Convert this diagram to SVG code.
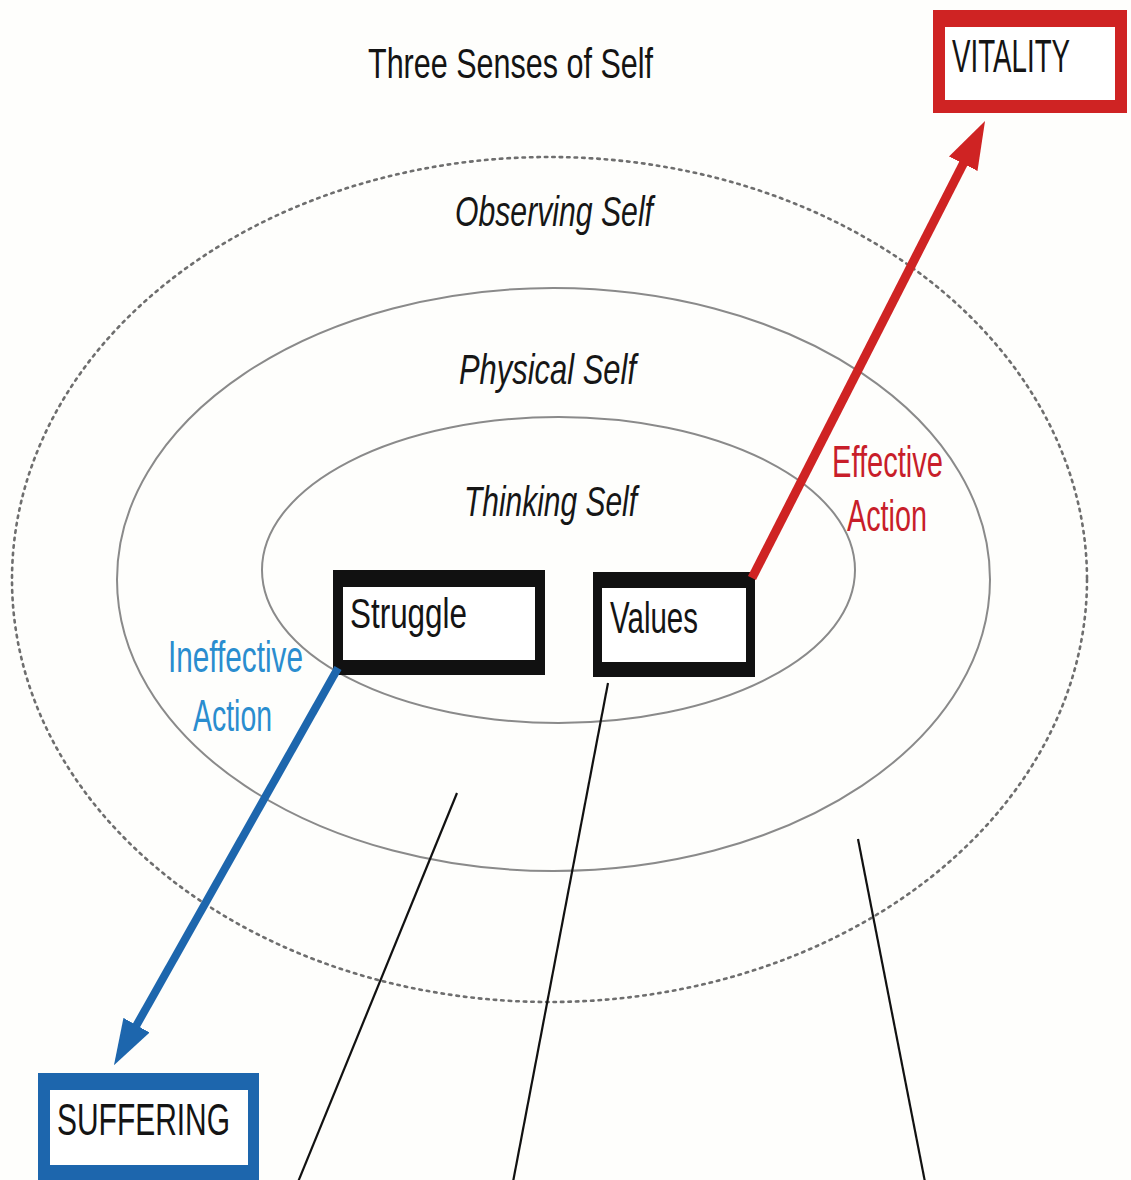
<svg xmlns="http://www.w3.org/2000/svg" width="1131" height="1180" viewBox="0 0 1131 1180">
  <style>
    .lbl { font-family: "Liberation Sans", Arial, sans-serif; fill: #141414; }
    .sense { font-family: "Liberation Sans", Arial, sans-serif; font-style: italic; fill: #161616; font-size: 42px; }
    .ring { fill: none; stroke: #8a8a8a; stroke-width: 2; }
    .ring-outer { fill: none; stroke: #6e6e6e; stroke-width: 2.6; stroke-dasharray: 2.5 5; stroke-linecap: round; }
    .leader { stroke: #111; stroke-width: 2.2; fill: none; }
    .good { stroke: #cf2323; stroke-width: 9; fill: none; }
    .bad { stroke: #1d66ad; stroke-width: 8; fill: none; }
  </style>
  <defs>
    <marker id="headRed" markerUnits="userSpaceOnUse" markerWidth="50" markerHeight="34" refX="18" refY="17" orient="auto">
      <path d="M0,1 L48,17 L0,33 z" fill="#cf2323"/>
    </marker>
    <marker id="headBlue" markerUnits="userSpaceOnUse" markerWidth="50" markerHeight="32" refX="18" refY="16" orient="auto">
      <path d="M0,1 L46,16 L0,31 z" fill="#1d66ad"/>
    </marker>
  </defs>

  <rect width="1131" height="1180" fill="#fefefc"/>

  <!-- title -->
  <text class="lbl" x="368" y="78" font-size="42" textLength="285" lengthAdjust="spacingAndGlyphs">Three Senses of Self</text>

  <!-- nested senses of self -->
  <g id="observing-self">
    <ellipse class="ring-outer" cx="549.5" cy="579.5" rx="537.5" ry="422.5"/>
    <text class="sense" x="455" y="226" textLength="198" lengthAdjust="spacingAndGlyphs">Observing Self</text>
  </g>
  <g id="physical-self">
    <ellipse class="ring" cx="553.5" cy="579.5" rx="436.5" ry="291.5"/>
    <text class="sense" x="459" y="384" textLength="177" lengthAdjust="spacingAndGlyphs">Physical Self</text>
  </g>
  <g id="thinking-self">
    <ellipse class="ring" cx="558.5" cy="570" rx="296.5" ry="153"/>
    <text class="sense" x="464" y="516" textLength="173" lengthAdjust="spacingAndGlyphs">Thinking Self</text>
  </g>

  <!-- boxes -->
  <g id="vitality">
    <rect x="933" y="10" width="194" height="103" fill="#cf2323"/>
    <rect x="945" y="27" width="170" height="73" fill="#ffffff"/>
    <text class="lbl" transform="translate(952,72) scale(0.59,1)" font-size="47">VITALITY</text>
  </g>
  <g id="suffering">
    <rect x="38" y="1073" width="221" height="112" fill="#1d66ad"/>
    <rect x="50" y="1090" width="198" height="75" fill="#ffffff"/>
    <text class="lbl" x="57" y="1135" font-size="44" textLength="173" lengthAdjust="spacingAndGlyphs">SUFFERING</text>
  </g>
  <g id="struggle">
    <rect x="333" y="570" width="212" height="105" fill="#111111"/>
    <rect x="343" y="587" width="192" height="73" fill="#ffffff"/>
    <text class="lbl" x="350" y="628" font-size="42" textLength="117" lengthAdjust="spacingAndGlyphs">Struggle</text>
  </g>
  <g id="values">
    <rect x="593" y="572" width="162" height="105" fill="#111111"/>
    <rect x="602" y="588" width="144" height="74" fill="#ffffff"/>
    <text class="lbl" x="610" y="633" font-size="44" textLength="88" lengthAdjust="spacingAndGlyphs">Values</text>
  </g>

  <!-- connectors -->
  <g id="connectors">
    <line class="leader" x1="457" y1="793" x2="298" y2="1182"/>
    <line class="leader" x1="608" y1="683" x2="513" y2="1182"/>
    <line class="leader" x1="858" y1="839" x2="925" y2="1182"/>
    <line class="good" x1="752" y1="578" x2="971.4" y2="147.7" marker-end="url(#headRed)"/>
    <line class="bad" x1="338" y1="668" x2="127.7" y2="1040.9" marker-end="url(#headBlue)"/>
  </g>

  <!-- action labels -->
  <g id="effective-action" font-family="'Liberation Sans', Arial, sans-serif" font-size="44" fill="#c81e2a">
    <text x="832" y="477" textLength="111" lengthAdjust="spacingAndGlyphs">Effective</text>
    <text x="847" y="531" textLength="80" lengthAdjust="spacingAndGlyphs">Action</text>
  </g>
  <g id="ineffective-action" font-family="'Liberation Sans', Arial, sans-serif" font-size="44" fill="#2a8dcf">
    <text x="168" y="672" textLength="135" lengthAdjust="spacingAndGlyphs">Ineffective</text>
    <text x="193" y="731" textLength="79" lengthAdjust="spacingAndGlyphs">Action</text>
  </g>
</svg>
